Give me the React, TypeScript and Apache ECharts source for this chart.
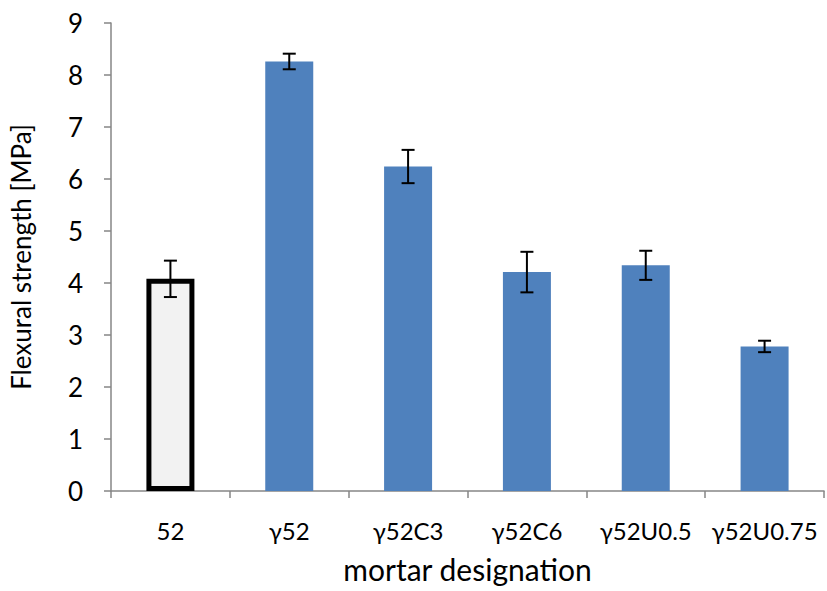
import React, { useEffect, useRef } from "react";
import * as echarts from "echarts";

const categories = ["52", "γ52", "γ52C3", "γ52C6", "γ52U0.5", "γ52U0.75"];
const strengths = [4.08, 8.26, 6.24, 4.21, 4.34, 2.78];
const errors = [0.35, 0.15, 0.32, 0.39, 0.28, 0.11];
const yTicks = [0, 9, 1];

const FONT = "Lato";

export default function App() {
  const ref = useRef<HTMLDivElement>(null);
  useEffect(() => {
    if (!ref.current) return;
    const chart = echarts.init(ref.current, undefined, { renderer: "svg" });
    const barData = strengths.map((v, i) =>
      i === 0
        ? { value: v, itemStyle: { color: "#F2F2F2", borderColor: "#000000", borderWidth: 5 } }
        : { value: v, itemStyle: { color: "#4F81BD" } }
    );
    const errData = strengths.map((v, i) => [i, v - errors[i], v + errors[i]]);
    chart.setOption({
      animation: false,
      backgroundColor: "#ffffff",
      grid: { left: 111, right: 3, top: 23, bottom: 100, containLabel: false, outerBoundsMode: "none" },
      xAxis: {
        type: "category",
        data: categories,
        name: "mortar designation",
        nameLocation: "middle",
        nameGap: 63,
        nameTextStyle: { fontFamily: FONT, fontSize: 30, color: "#000" },
        axisLine: { lineStyle: { color: "#868686", width: 1.5 } },
        axisTick: { show: true, length: 7, lineStyle: { color: "#868686", width: 1.5 } },
        axisLabel: { fontFamily: FONT, fontSize: 24, color: "#000", margin: 27, interval: 0 },
      },
      yAxis: {
        type: "value",
        min: yTicks[0],
        max: yTicks[1],
        interval: yTicks[2],
        name: "Flexural strength [MPa]",
        nameLocation: "middle",
        nameGap: 77,
        nameTextStyle: { fontFamily: FONT, fontSize: 26, color: "#000" },
        axisLine: { show: true, lineStyle: { color: "#868686", width: 1.5 } },
        axisTick: { show: true, length: 7, lineStyle: { color: "#868686", width: 1.5 } },
        axisLabel: { fontFamily: FONT, fontSize: 26, color: "#000", margin: 28 },
        splitLine: { show: false },
      },
      series: [
        {
          type: "bar",
          data: barData,
          barWidth: 48,
        },
        {
          type: "custom",
          data: errData,
          encode: { x: 0, y: [1, 2] },
          z: 10,
          renderItem: (params: any, api: any) => {
            const x = api.value(0);
            const lo = api.coord([x, api.value(1)]);
            const hi = api.coord([x, api.value(2)]);
            const hw = 6.5;
            const style = { stroke: "#000", lineWidth: 2 };
            return {
              type: "group",
              children: [
                { type: "line", shape: { x1: hi[0], y1: hi[1], x2: lo[0], y2: lo[1] }, style },
                { type: "line", shape: { x1: hi[0] - hw, y1: hi[1], x2: hi[0] + hw, y2: hi[1] }, style },
                { type: "line", shape: { x1: lo[0] - hw, y1: lo[1], x2: lo[0] + hw, y2: lo[1] }, style },
              ],
            };
          },
        },
      ],
    });
    return () => chart.dispose();
  }, []);
  return (
    <div
      ref={ref}
      style={{ position: "absolute", left: 0, top: 0, width: 827, height: 591 }}
    />
  );
}
